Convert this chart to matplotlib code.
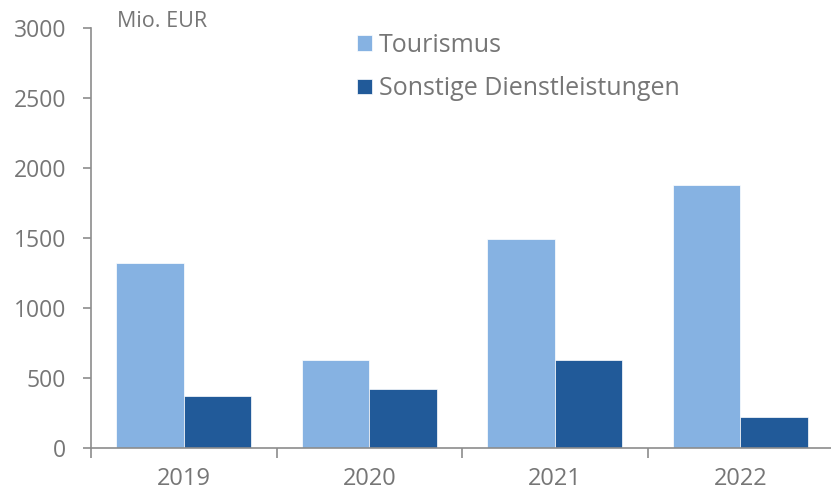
import numpy as np
import matplotlib.pyplot as plt

plt.rcParams['font.family'] = ['Open Sans', 'DejaVu Sans']

years = ["2019", "2020", "2021", "2022"]
tourismus = [1325, 630, 1495, 1880]
sonstige = [370, 420, 630, 220]
series_names = ["Tourismus", "Sonstige Dienstleistungen"]

light = "#86b2e2"
dark = "#215a99"
grey = "#767676"
axis_grey = "#8c8c8c"

fig = plt.figure(figsize=(8.31, 4.95), dpi=100)
ax = fig.add_axes([91/831, 1-448/495, 742/831, 420/495])

x = np.arange(len(years))
w = 0.365
ax.bar(x - w/2, tourismus, w, color=light, edgecolor="white", linewidth=0.5, label=series_names[0])
ax.bar(x + w/2, sonstige, w, color=dark, edgecolor="white", linewidth=0.5, label=series_names[1])

ax.set_xlim(-0.5, len(years) - 0.5)
ax.set_ylim(0, 3000)
ax.set_yticks(np.arange(0, 3001, 500))
ax.tick_params(axis='y', labelsize=16.5, colors=axis_grey, labelcolor=grey, length=6, width=1.2, pad=12)

ax.set_xticks(x)
ax.set_xticklabels(years)
ax.set_xticks(np.arange(-0.5, len(years), 1), minor=True)
ax.tick_params(axis='x', which='major', length=0, labelsize=17, labelcolor=grey, pad=14)
ax.tick_params(axis='x', which='minor', length=7, width=1.2, colors=axis_grey)

for s in ["top", "right"]:
    ax.spines[s].set_visible(False)
for s in ["left", "bottom"]:
    ax.spines[s].set_color(axis_grey)
    ax.spines[s].set_linewidth(1.2)

fig.text(117/831, 1-27/495, "Mio. EUR", fontsize=15.5, color=grey, ha="left", va="baseline")

leg = ax.legend(loc="upper left", bbox_to_anchor=(344/831, 1-20/495), bbox_transform=fig.transFigure,
                frameon=False, fontsize=18, handlelength=0.6, handleheight=0.6,
                handletextpad=0.3, labelspacing=0.75, borderpad=0)
for t in leg.get_texts():
    t.set_color(grey)

fig.savefig("out.png", dpi=100)
